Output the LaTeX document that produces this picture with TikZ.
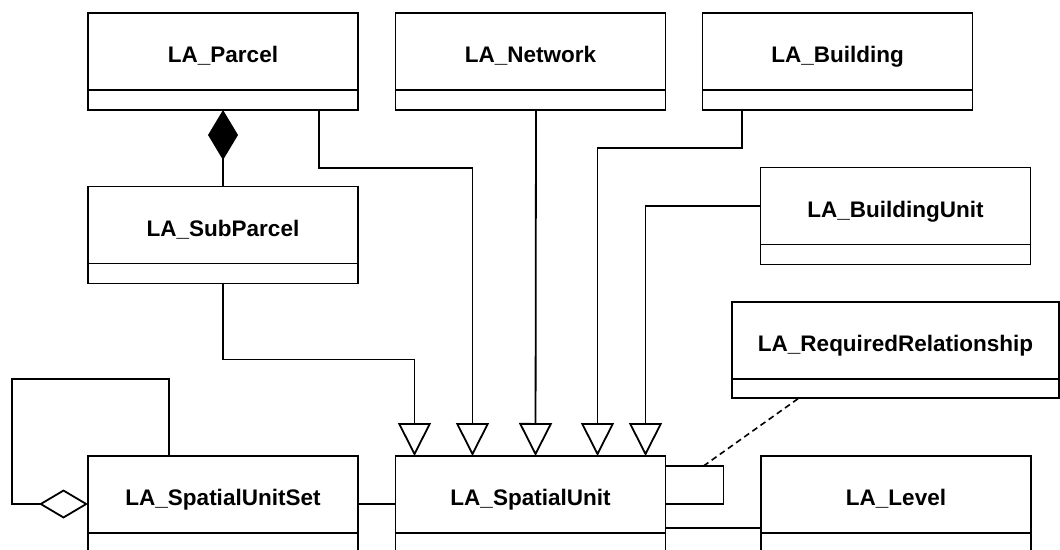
\documentclass[tikz,border=0pt]{standalone}
\usepackage{fontspec}
\setmainfont{Liberation Sans}
\usepackage{tikz}
\usetikzlibrary{arrows.meta,positioning}

\begin{document}
\begin{tikzpicture}[
        x=1pt, y=-1pt, line width=1.8pt,
        clsbox/.style={rectangle, draw, outer sep=0pt, minimum width=270pt, minimum height=77pt,
                       text height=22pt, text depth=0pt,
                       font=\fontsize{22.5}{26}\selectfont\bfseries},
        cmpbox/.style={rectangle, draw, outer sep=0pt, minimum width=270pt, minimum height=20pt,
                       below=0pt of #1},
        gen/.style={-{Triangle[open, length=33pt, width=33pt]}},
        compo/.style={{Diamond[length=50pt, width=30pt, fill=black]}-},
        aggr/.style={{Diamond[open, length=49pt, width=29pt]}-}
      ]
        \useasboundingbox (0,0) rectangle (1060,549);
        \clip (0,0) rectangle (1060,549);

        % Top row
        \node[clsbox] (parcel)   at (223, 51.5)   {LA\_Parcel};
        \node[cmpbox=parcel] (parcelc) {};
        \node[clsbox] (network)  at (530.5, 51.5) {LA\_Network};
        \node[cmpbox=network] (networkc) {};
        \node[clsbox] (building) at (837.5, 51.5) {LA\_Building};
        \node[cmpbox=building] (buildingc) {};

        % Middle
        \node[clsbox] (subparcel) at (223, 225)     {LA\_SubParcel};
        \node[cmpbox=subparcel] (subparcelc) {};
        \node[clsbox] (bunit)     at (895.5, 206)   {LA\_BuildingUnit};
        \node[cmpbox=bunit] (bunitc) {};
        \node[clsbox, minimum width=327pt] (reqrel) at (895.5, 340.5) {LA\_RequiredRelationship};
        \node[cmpbox=reqrel, minimum width=327pt, minimum height=19pt] (reqrelc) {};

        % Bottom row
        \node[clsbox] (suset) at (223, 494.5)   {LA\_SpatialUnitSet};
        \node[cmpbox=suset] (susetc) {};
        \node[clsbox] (su)    at (530.5, 494.5) {LA\_SpatialUnit};
        \node[cmpbox=su] (suc) {};
        \node[clsbox] (level) at (896, 494.5)   {LA\_Level};
        \node[cmpbox=level] (levelc) {};

        % Composition
        \draw[compo] (parcelc.south) -- (subparcel.north);

        % Generalisations into LA_SpatialUnit
        \draw[gen] (subparcelc.south) -- ++(0,76) -| ([xshift=19pt]su.north west);
        \draw[gen] ([xshift=-39pt]parcelc.south east) -- ++(0,58) -| ([xshift=77pt]su.north west);
        \draw[gen] ([xshift=5.5pt]networkc.south) -- ([xshift=140pt]su.north west);
        \draw[gen] ([xshift=-95.5pt]buildingc.south) -- ++(0,38) -| ([xshift=202pt]su.north west);
        \draw[gen] (bunit.west) -| ([xshift=250pt]su.north west);

        % Self association and its constraint
        \draw ([yshift=28.5pt]su.east) -- ++(58,0) -- ++(0,38) -- ([yshift=-9.5pt]su.east);
        \coordinate (selfassoc) at ([xshift=38pt, yshift=28.5pt]su.east);
        \draw[dash pattern=on 6pt off 4pt, line width=1.6pt] (selfassoc) -- ([xshift=-96.5pt]reqrelc.south);

        % Associations
        \draw ([yshift=-33.5pt]su.east) -- ([yshift=-33.5pt]level.west);
        \draw ([yshift=-9.5pt]suset.east) -- ([yshift=-9.5pt]su.west);

        % Aggregation of LA_SpatialUnitSet
        \draw[aggr] ([yshift=-9.5pt]suset.west) -- ++(-76,0) -- ++(0,-125) -| ([xshift=81pt]suset.north west);
      \end{tikzpicture}
\end{document}
